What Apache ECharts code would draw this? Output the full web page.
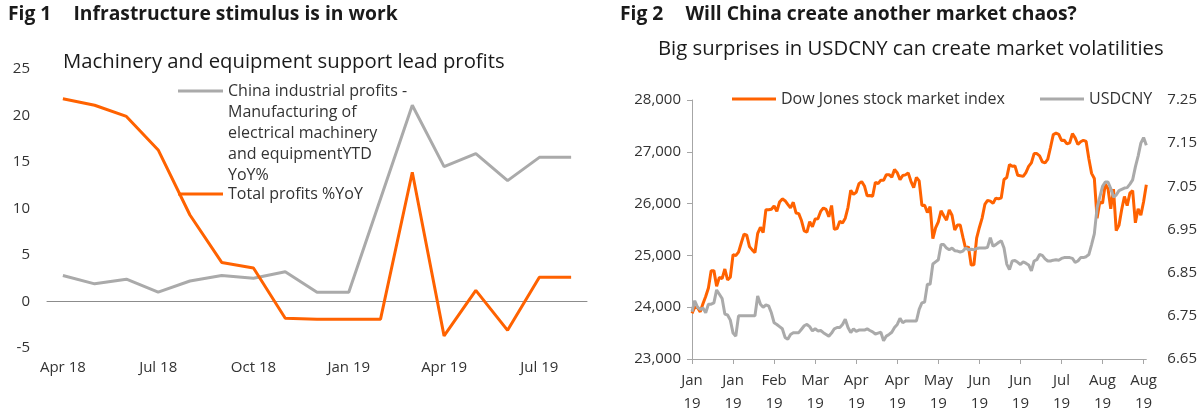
<!DOCTYPE html>
<html><head><meta charset="utf-8">
<script src="https://cdn.jsdelivr.net/npm/echarts@6/dist/echarts.min.js"></script>
<style>html,body{margin:0;padding:0;background:#fff}#c{width:1200px;height:418px}</style>
</head><body><div id="c"></div>
<script>
// ---------- Fig 1 data ----------
const months = ['Apr 18','May 18','Jun 18','Jul 18','Aug 18','Sep 18','Oct 18','Nov 18','Dec 18',
  'Jan 19','Feb 19','Mar 19','Apr 19','May 19','Jun 19','Jul 19','Aug 19'];
const mfgName = 'China industrial profits - Manufacturing of electrical machinery and equipmentYTD YoY%';
const mfgLegendLines = ['China industrial profits -','Manufacturing of','electrical machinery','and equipmentYTD','YoY%'];
const mfgProfits = [2.8, 1.9, 2.4, 1.0, 2.2, 2.8, 2.5, 3.2, 1.0, 1.0, null, 21.1, 14.5, 15.9, 13.0, 15.5, 15.5];
const totalName = 'Total profits %YoY';
const totalProfits = [21.8, 21.1, 19.9, 16.3, 9.3, 4.2, 3.6, -1.8, -1.9, -1.9, -1.9, 13.9, -3.7, 1.2, -3.1, 2.6, 2.6];

// ---------- Fig 2 data (weekdays from 9 Jan 2019) ----------
const firstDay = '2019-01-09';
const dowName = 'Dow Jones stock market index';
const dow = [
 23879,24001,23996,23910,24065,24207,24370,24706,24706,24404,24575,24553,24737,24528,24579,25014,24999,25063,25239,25411,
 25390,25169,25106,25053,25425,25543,25439,25883,25883,25891,25954,25850,26031,26091,26057,25985,25916,26026,25819,25806,
 25673,25473,25450,25650,25554,25702,25709,25849,25914,25887,25745,25963,25502,25516,25658,25625,25718,25929,26258,26179,
 26218,26385,26425,26341,26150,26157,26143,26412,26385,26452,26450,26559,26559,26511,26656,26597,26462,26543,26554,26593,
 26430,26307,26505,26438,25965,25968,25828,25942,25324,25532,25648,25862,25764,25679,25877,25776,25490,25586,25586,25347,
 25126,25169,24815,24819,25332,25539,25720,25984,26062,26048,26004,26106,26090,26112,26466,26504,26753,26719,26727,26548,
 26536,26526,26600,26717,26787,26966,26966,26922,26806,26784,26860,27088,27332,27359,27336,27220,27223,27154,27172,27350,
 27270,27141,27193,27222,27199,26865,26584,26485,25718,26030,26008,26379,26287,25898,26280,25480,25579,25886,26136,25962,
 26202,26252,25629,25899,25778,26036,26362];
const usdName = 'USDCNY';
const usdcny = [
 6.760,6.785,6.770,6.765,6.768,6.757,6.777,6.777,6.780,6.810,6.800,6.790,6.754,6.752,6.740,6.710,6.703,6.750,6.750,6.750,
 6.750,6.750,6.750,6.750,6.796,6.777,6.770,6.775,6.773,6.757,6.734,6.730,6.725,6.720,6.700,6.696,6.707,6.711,6.711,6.711,
 6.719,6.727,6.730,6.725,6.715,6.720,6.715,6.716,6.711,6.707,6.703,6.710,6.720,6.723,6.723,6.730,6.742,6.723,6.711,6.720,
 6.714,6.717,6.717,6.717,6.720,6.716,6.713,6.708,6.710,6.712,6.692,6.703,6.707,6.712,6.723,6.730,6.744,6.734,6.738,6.738,
 6.738,6.738,6.738,6.765,6.780,6.782,6.823,6.823,6.870,6.875,6.880,6.915,6.915,6.907,6.903,6.907,6.901,6.900,6.898,6.900,
 6.907,6.903,6.904,6.903,6.906,6.907,6.907,6.907,6.909,6.931,6.911,6.915,6.920,6.924,6.907,6.870,6.857,6.877,6.878,6.874,
 6.869,6.875,6.872,6.868,6.854,6.877,6.880,6.892,6.890,6.882,6.877,6.877,6.879,6.880,6.879,6.883,6.885,6.885,6.885,6.883,
 6.874,6.877,6.885,6.885,6.887,6.892,6.915,6.940,7.000,7.025,7.050,7.060,7.060,7.045,7.025,7.030,7.040,7.043,7.046,7.047,
 7.055,7.065,7.095,7.120,7.150,7.163,7.145];
const dowTicks = [23000, 28000, 1000];
const usdTicks = [6.65, 6.75, 6.85, 6.95, 7.05, 7.15, 7.25];

function weekdays(start, n) {
  const out = []; const d = new Date(start + 'T00:00:00Z');
  while (out.length < n) { const w = d.getUTCDay(); if (w !== 0 && w !== 6) out.push(d.toISOString().slice(0, 10)); d.setUTCDate(d.getUTCDate() + 1); }
  return out;
}
const days = weekdays(firstDay, dow.length);
const MON = ['Jan','Feb','Mar','Apr','May','Jun','Jul','Aug','Sep','Oct','Nov','Dec'];

const FONT = "'Open Sans', sans-serif";
const ORANGE = '#FF6200', GREY = '#AAAAAA', TXT = '#333333', AX = '#A6A6A6', HEAD = '#1A1A1A';
const thousands = v => String(v).replace(/\B(?=(\d{3})+(?!\d))/g, ',');

const chart = echarts.init(document.getElementById('c'), null, {renderer: 'canvas'});
const lab = {fontSize: 15, color: TXT, fontFamily: FONT};
const legendBase = {padding: 0, itemWidth: 45, itemHeight: 3, icon: 'rect', selectedMode: false};
const legText = {fontSize: 16, color: TXT, lineHeight: 21, fontFamily: FONT};
const headRich = {t: {fontSize: 19.3, fontWeight: 'bold', color: HEAD, fontFamily: FONT, lineHeight: 24}, s: {width: 22}};
chart.setOption({
  animation: false,
  textStyle: {fontFamily: FONT},
  title: [
    {text: '{t|Fig 1}{s|}{t|Infrastructure stimulus is in work}', left: 8, top: 3, padding: 0,
     textStyle: {rich: headRich}},
    {text: 'Machinery and equipment support lead profits', left: 63, top: 49, padding: 0,
     textStyle: {fontSize: 20.3, fontWeight: 'normal', color: HEAD, fontFamily: FONT, lineHeight: 26}},
    {text: '{t|Fig 2}{s|}{t|Will China create another market chaos?}', left: 620, top: 3, padding: 0,
     textStyle: {rich: headRich}},
    {text: 'Big surprises in USDCNY can create market volatilities', left: 658, top: 36, padding: 0,
     textStyle: {fontSize: 20.3, fontWeight: 'normal', color: HEAD, fontFamily: FONT, lineHeight: 26}}
  ],
  legend: [
    Object.assign({data: [mfgName], left: 178, top: 91 - 94.5,
     formatter: () => '\n\n\n\n' + mfgLegendLines.join('\n'), textStyle: legText}, legendBase),
    Object.assign({data: [totalName], left: 178, top: 194 - 10.5, textStyle: legText}, legendBase),
    Object.assign({data: [dowName], left: 732, top: 99 - 10.5, textStyle: legText}, legendBase, {itemWidth: 44}),
    Object.assign({data: [usdName], left: 1040, top: 99 - 10.5, textStyle: legText}, legendBase, {itemWidth: 44})
  ],
  grid: [
    {left: 47, top: 69, width: 540, height: 279},
    {left: 692, top: 100, width: 455, height: 259}
  ],
  xAxis: [
    {gridIndex: 0, type: 'category', data: months, boundaryGap: true,
     axisLine: {onZero: true, lineStyle: {color: '#8C8C8C', width: 1}},
     axisTick: {interval: 2, length: 5, lineStyle: {color: '#8C8C8C'}},
     axisLabel: {show: false}, splitLine: {show: false}},
    {gridIndex: 0, type: 'category', data: months, boundaryGap: true, position: 'bottom',
     axisLine: {show: false, onZero: false}, axisTick: {show: false},
     axisLabel: Object.assign({interval: 2, margin: 12}, lab), splitLine: {show: false}},
    {gridIndex: 1, type: 'category', data: days, boundaryGap: false,
     axisLine: {lineStyle: {color: AX, width: 1}},
     axisTick: {interval: 14, length: 5, lineStyle: {color: AX}},
     axisLabel: Object.assign({interval: 14, margin: 10, lineHeight: 23,
       formatter: v => MON[+v.slice(5, 7) - 1] + '\n' + v.slice(2, 4)}, lab),
     splitLine: {show: false}}
  ],
  yAxis: [
    {gridIndex: 0, type: 'value', min: -5, max: 25, interval: 5,
     axisLine: {show: false}, axisTick: {show: false}, splitLine: {show: false},
     axisLabel: Object.assign({margin: 17}, lab)},
    {gridIndex: 1, type: 'value', min: dowTicks[0], max: dowTicks[1], interval: dowTicks[2], position: 'left',
     axisLine: {show: true, lineStyle: {color: AX}}, axisTick: {show: true, length: 5, lineStyle: {color: AX}},
     splitLine: {show: false},
     axisLabel: Object.assign({margin: 11, formatter: thousands}, lab)},
    {gridIndex: 1, type: 'value', min: usdTicks[0], max: usdTicks[usdTicks.length - 1], position: 'right',
     axisLine: {show: false}, axisTick: {show: false}, splitLine: {show: false},
     axisLabel: Object.assign({margin: 21, customValues: usdTicks, formatter: v => v.toFixed(2)}, lab)}
  ],
  series: [
    {name: mfgName, type: 'line', xAxisIndex: 0, yAxisIndex: 0, data: mfgProfits, connectNulls: true,
     symbol: 'none', lineStyle: {color: GREY, width: 3}, itemStyle: {color: GREY}},
    {name: totalName, type: 'line', xAxisIndex: 0, yAxisIndex: 0, data: totalProfits,
     symbol: 'none', lineStyle: {color: ORANGE, width: 3}, itemStyle: {color: ORANGE}},
    {name: dowName, type: 'line', xAxisIndex: 2, yAxisIndex: 1, data: dow,
     symbol: 'none', lineStyle: {color: ORANGE, width: 3}, itemStyle: {color: ORANGE}},
    {name: usdName, type: 'line', xAxisIndex: 2, yAxisIndex: 2, data: usdcny,
     symbol: 'none', lineStyle: {color: GREY, width: 3}, itemStyle: {color: GREY}}
  ]
});
</script></body></html>
